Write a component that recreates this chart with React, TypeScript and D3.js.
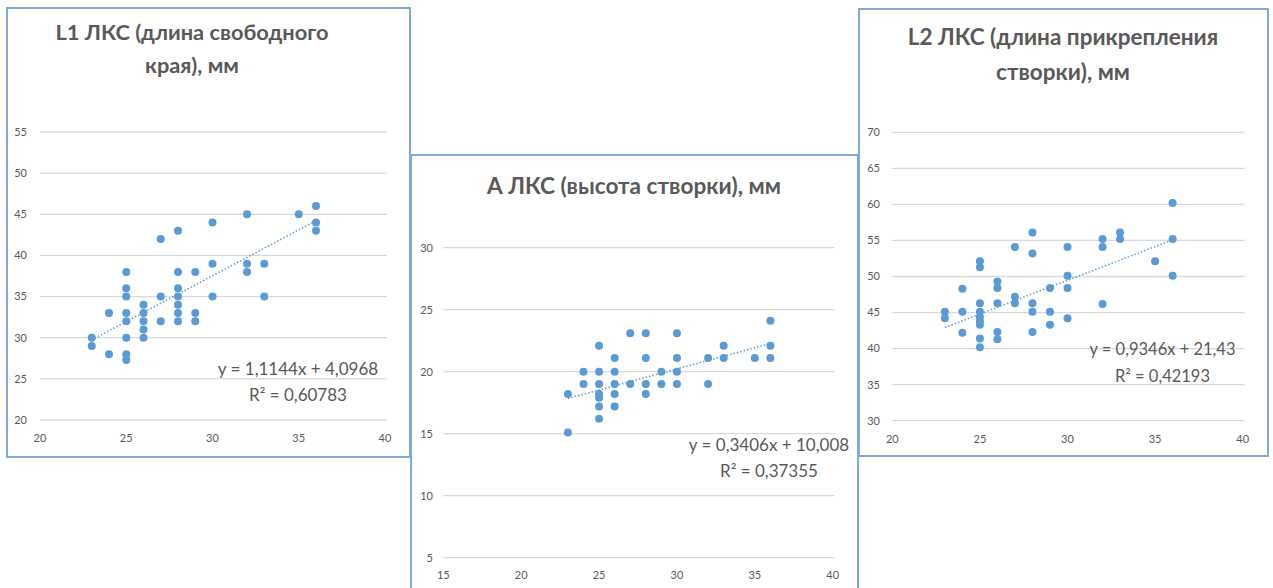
import React from "react";
import * as d3 from "d3";

// ---------- DATA ----------
const l1X = [23, 23, 24, 24, 25, 25, 25, 25, 25, 25, 25, 25, 26, 26, 26, 26, 26, 27, 27, 27, 28, 28, 28, 28, 28, 28, 28, 29, 29, 29, 30, 30, 30, 32, 32, 32, 33, 33, 35, 36, 36, 36];
const l1Y = [30, 29, 33, 28, 38, 36, 35, 33, 32, 30, 28, 27.3, 34, 33, 32, 31, 30, 42, 35, 32, 43, 38, 36, 35, 34, 33, 32, 38, 33, 32, 44, 39, 35, 45, 39, 38, 39, 35, 45, 46, 44, 43];

const aX = [23, 23, 24, 24, 25, 25, 25, 25, 25, 25, 25, 26, 26, 26, 26, 26, 27, 27, 28, 28, 28, 28, 29, 29, 30, 30, 30, 30, 32, 32, 33, 33, 35, 36, 36, 36];
const aY = [18.2, 15.1, 20, 19, 22.1, 20, 19, 18.2, 17.9, 17.2, 16.2, 21.1, 20, 19, 18.2, 17.2, 23.1, 19, 23.1, 21.1, 19, 18.2, 20, 19, 23.1, 21.1, 20, 19, 21.1, 19, 22.1, 21.1, 21.1, 24.1, 22.1, 21.1];

const l2X = [23, 23, 24, 24, 24, 25, 25, 25, 25, 25, 25, 25, 25, 25, 26, 26, 26, 26, 26, 27, 27, 27, 28, 28, 28, 28, 28, 29, 29, 29, 30, 30, 30, 30, 32, 32, 32, 33, 33, 35, 36, 36, 36];
const l2Y = [45.1, 44.2, 48.3, 45.1, 42.2, 52.1, 51.3, 46.3, 45.1, 44.4, 43.8, 43.3, 41.4, 40.2, 49.3, 48.4, 46.3, 42.3, 41.3, 54.1, 47.2, 46.3, 56.1, 53.2, 46.3, 45.1, 42.3, 48.4, 45.1, 43.3, 54.1, 50.1, 48.4, 44.2, 55.2, 54.1, 46.2, 56.1, 55.2, 52.1, 60.2, 55.2, 50.1];

const l1Ticks = [20, 25, 30, 35, 40, 45, 50, 55];
const aTicks = [5, 10, 15, 20, 25, 30];
const l2Ticks = [30, 35, 40, 45, 50, 55, 60, 65, 70];
const xTicks20 = [20, 25, 30, 35, 40];
const xTicks15 = [15, 20, 25, 30, 35, 40];

const l1Title = ["L1 ЛКС (длина свободного", "края), мм"];
const aTitle = ["А ЛКС (высота створки), мм"];
const l2Title = ["L2 ЛКС (длина прикрепления", "створки), мм"];

const l1Fit = { slope: 1.1144, intercept: 4.0968 };
const aFit = { slope: 0.3406, intercept: 10.008 };
const l2Fit = { slope: 0.9346, intercept: 21.43 };

const l1Eq = ["y = 1,1144x + 4,0968", "R² = 0,60783"];
const aEq = ["y = 0,3406x + 10,008", "R² = 0,37355"];
const l2Eq = ["y = 0,9346x + 21,43", "R² = 0,42193"];

// ---------- STYLE ----------
const FONT = "Lato, 'Open Sans', sans-serif";
const TEXT = "#595959";
const GRID = "#d9d9d9";
const DOT = "#5b9bd5";
const BORDER = "#7fa9d8";

type PanelProps = {
  box: [number, number, number, number];
  xs: number[];
  ys: number[];
  xDomain: [number, number];
  yDomain: [number, number];
  xRange: [number, number];
  yRange: [number, number];
  xTicks: number[];
  yTicks: number[];
  yLabelX: number;
  xLabelY: number;
  title: string[];
  titleX: number;
  titleY: number[];
  titleSize: number;
  fit: { slope: number; intercept: number };
  eq: string[];
  eqX: number;
  eqY: number[];
  eqSize: number;
};

function Panel(p: PanelProps) {
  const x = d3.scaleLinear().domain(p.xDomain).range(p.xRange);
  const y = d3.scaleLinear().domain(p.yDomain).range(p.yRange);
  const x0 = d3.min(p.xs) as number;
  const x1 = d3.max(p.xs) as number;
  const fitLine = d3
    .line<number>()
    .x((d) => x(d))
    .y((d) => y(p.fit.slope * d + p.fit.intercept))([x0, x1]);
  const [bx, by, bw, bh] = p.box;
  return (
    <g>
      <rect x={bx} y={by} width={bw} height={bh} fill="#fff" stroke={BORDER} strokeWidth={2} />
      {p.title.map((t, i) => (
        <text key={i} x={p.titleX} y={p.titleY[i]} textAnchor="middle" fontFamily={FONT} fontWeight={700} fontSize={p.titleSize} fill={TEXT}>
          {t}
        </text>
      ))}
      {p.yTicks.map((t) => (
        <g key={t}>
          <line x1={p.xRange[0]} x2={p.xRange[1] + 2} y1={y(t)} y2={y(t)} stroke={GRID} strokeWidth={1.3} />
          <text x={p.yLabelX} y={y(t)} dy="0.35em" textAnchor="end" fontFamily={FONT} fontSize={11} fill={TEXT}>
            {t}
          </text>
        </g>
      ))}
      {p.xTicks.map((t) => (
        <text key={t} x={x(t)} y={p.xLabelY} textAnchor="middle" fontFamily={FONT} fontSize={11} fill={TEXT}>
          {t}
        </text>
      ))}
      {p.xs.map((xv, i) => (
        <circle key={i} cx={x(xv)} cy={y(p.ys[i])} r={4} fill={DOT} />
      ))}
      <path d={fitLine || ""} fill="none" stroke={DOT} strokeWidth={1.5} strokeDasharray="1.5 2" />
      {p.eq.map((t, i) => (
        <text key={i} x={p.eqX} y={p.eqY[i]} textAnchor="middle" fontFamily={FONT} fontSize={p.eqSize} fill={TEXT}>
          {t}
        </text>
      ))}
    </g>
  );
}

export default function App() {
  return (
    <svg width={1273} height={588} style={{ position: "absolute", left: 0, top: 0, background: "#fff" }}>
      <rect x={0} y={0} width={1273} height={588} fill="#fff" />
      <Panel
        box={[7, 8, 403, 449]}
        xs={l1X}
        ys={l1Y}
        xDomain={[20, 40]}
        yDomain={[20, 55]}
        xRange={[40, 385]}
        yRange={[420, 132]}
        xTicks={xTicks20}
        yTicks={l1Ticks}
        yLabelX={27}
        xLabelY={442}
        title={l1Title}
        titleX={192}
        titleY={[40, 73]}
        titleSize={21.8}
        fit={l1Fit}
        eq={l1Eq}
        eqX={298}
        eqY={[375, 401]}
        eqSize={17}
      />
      <Panel
        box={[411, 155, 447, 450]}
        xs={aX}
        ys={aY}
        xDomain={[15, 40]}
        yDomain={[5, 30]}
        xRange={[443.3, 832.7]}
        yRange={[557.7, 247.7]}
        xTicks={xTicks15}
        yTicks={aTicks}
        yLabelX={433}
        xLabelY={579}
        title={aTitle}
        titleX={634}
        titleY={[194]}
        titleSize={22.6}
        fit={aFit}
        eq={aEq}
        eqX={769}
        eqY={[450.5, 477]}
        eqSize={17}
      />
      <Panel
        box={[859, 9, 409, 447]}
        xs={l2X}
        ys={l2Y}
        xDomain={[20, 40]}
        yDomain={[30, 70]}
        xRange={[892.3, 1242.7]}
        yRange={[420.7, 132.3]}
        xTicks={xTicks20}
        yTicks={l2Ticks}
        yLabelX={880}
        xLabelY={443}
        title={l2Title}
        titleX={1063}
        titleY={[45, 80]}
        titleSize={22.5}
        fit={l2Fit}
        eq={l2Eq}
        eqX={1162.5}
        eqY={[355, 381.5]}
        eqSize={16.5}
      />
    </svg>
  );
}
